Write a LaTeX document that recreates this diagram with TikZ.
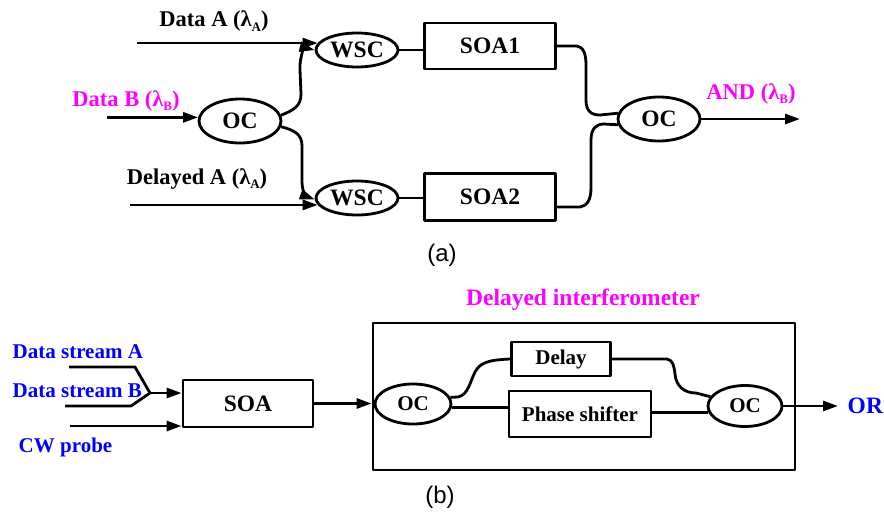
\documentclass[tikz,border=0pt]{standalone}
\usepackage{fontspec}
\setmainfont{Liberation Serif}
\newfontfamily\capfont{Liberation Sans}
\usetikzlibrary{shapes.geometric,arrows.meta}
\definecolor{labmag}{RGB}{255,0,255}
\definecolor{labblue}{RGB}{0,0,255}
\newcommand{\lsub}[1]{\raisebox{-0.45ex}{\fontsize{13}{13}\selectfont #1}}

\begin{document}
\begin{tikzpicture}[x=1pt,y=-1pt,line width=2.8pt,line join=round,
  txt/.style={font=\bfseries\fontsize{21}{25}\selectfont},
  lbl/.style={font=\bfseries\fontsize{22.5}{26}\selectfont},
  inner/.style={font=\bfseries\fontsize{23.5}{27}\selectfont},
  box/.style={draw,rectangle,inner sep=0pt},
  cpl/.style={draw,ellipse,inner sep=0pt},
  arr/.style={-{Triangle[length=15pt,width=10pt]}},
  subcap/.style={font=\capfont\fontsize{24}{28}\selectfont}]
\useasboundingbox (0,0) rectangle (884,514);
% part (a)
\node[cpl,inner,minimum width=82,minimum height=34] (wscT) at (357,50) {WSC};
\node[cpl,inner,minimum width=82,minimum height=34] (wscB) at (357,198) {WSC};
\node[box,inner,minimum width=131,minimum height=46] (soa1) at (490,46) {SOA1};
\node[box,inner,minimum width=131,minimum height=47] (soa2) at (490,197) {SOA2};
\node[cpl,inner,minimum width=82,minimum height=44] (ocB) at (240,121) {OC};
\node[cpl,inner,minimum width=82,minimum height=44] (ocR) at (659,119) {OC};
\node[lbl,anchor=base] (labA) at (214,27) {Data A (λ\lsub{A})};
\node[lbl,text=labmag,anchor=base] (labB) at (126,106) {Data B (λ\lsub{B})};
\node[lbl,anchor=base] (labD) at (197,184) {Delayed A (λ\lsub{A})};
\node[lbl,text=labmag,anchor=base] (labAnd) at (751,99) {AND (λ\lsub{B})};
\node[subcap,anchor=base] (capA) at (442,261) {(a)};
\coordinate (inA) at (137,43);
\coordinate (inB) at (107,118);
\coordinate (inD) at (130,203);
\coordinate (outA) at (800,119);
\draw[arr] (wscT.170 -| inA) -- (wscT.170);
\draw[arr] (ocB.175 -| inB) -- (ocB.175);
\draw[arr] (wscB.190 -| inD) -- (wscB.190);
\draw[arr] (ocB.8) .. controls (294,110) and (301,106) .. (301,94) -- (300,70) .. controls (299,56) and (306,48) .. (wscT.180);
\draw[arr] (ocB.-8) .. controls (294,130) and (302,134) .. (302,146) -- (302,182) .. controls (302,193) and (308,197) .. (wscB.182);
\draw (wscT.east) -- (wscT.east -| soa1.west);
\draw (wscB.east) -- (wscB.east -| soa2.west);
\draw (soa1.east) -- (576,46) .. controls (584,47) and (586,54) .. (586,66) -- (586,100) .. controls (586,111) and (591,115) .. (600,115) -- (ocR.172);
\draw ([yshift=-10pt]soa2.east) -- (580,207) .. controls (587,206) and (591,200) .. (591,188) -- (591,140) .. controls (591,129) and (596,124) .. (604,124) -- (ocR.188);
\draw[arr] (ocR.east) -- (outA);
% part (b)
\node[box,inner,minimum width=130,minimum height=47] (soa) at (248,403.5) {SOA};
\node[box,minimum width=422,minimum height=147] (dint) at (584,396.5) {};
\node[lbl,text=labmag,anchor=base,font=\bfseries\fontsize{23.5}{27}\selectfont] (dintT) at (583,305) {Delayed interferometer};
\node[cpl,txt,fill=white,minimum width=76,minimum height=40] (ocL2) at (413,404) {OC};
\node[box,txt,minimum width=99,minimum height=34] (dly) at (561,359) {Delay};
\node[box,txt,minimum width=142,minimum height=46] (phs) at (580,414) {Phase shifter};
\node[cpl,txt,minimum width=74,minimum height=41] (ocR2) at (745,406) {OC};
\node[txt,text=labblue,anchor=base west] (labSA) at (8,358) {Data stream A};
\node[txt,text=labblue,anchor=base west] (labSB) at (8,397) {Data stream B};
\node[txt,text=labblue,anchor=base west] (labCW) at (14,452) {CW probe};
\node[inner,text=labblue,anchor=west] (labOr) at (843,406) {OR};
\node[subcap,anchor=base] (capB) at (440,503) {(b)};
\coordinate (inSA) at (69,367);
\coordinate (inSB) at (65,406);
\coordinate (jn) at (150,393);
\coordinate (inCW) at (70,426);
\coordinate (outB) at (838,406);
\draw (inSA) -- (135,367) -- (jn);
\draw (inSB) -- (131,406) -- (jn);
\draw[arr] (jn) -- (jn -| soa.west);
\draw[arr] (inCW) -- (inCW -| soa.west);
\draw[arr] (soa.east) -- (soa.east -| dint.west);
\draw (ocL2.10) -- (458,397) .. controls (468,395) and (470,382) .. (475,372) .. controls (480,363) and (487,360) .. (dly.west);
\draw (dly.east) -- (667,359) .. controls (673,360) and (674,366) .. (675,374) .. controls (676,386) and (684,393) .. (696,393) -- (ocR2.165);
\draw (ocL2.-5) -- (ocL2.-5 -| phs.west);
\draw (phs.east |- ocR2.190) -- (ocR2.190);
\draw[arr] (ocR2.east) -- (outB);
\end{tikzpicture}
\end{document}
